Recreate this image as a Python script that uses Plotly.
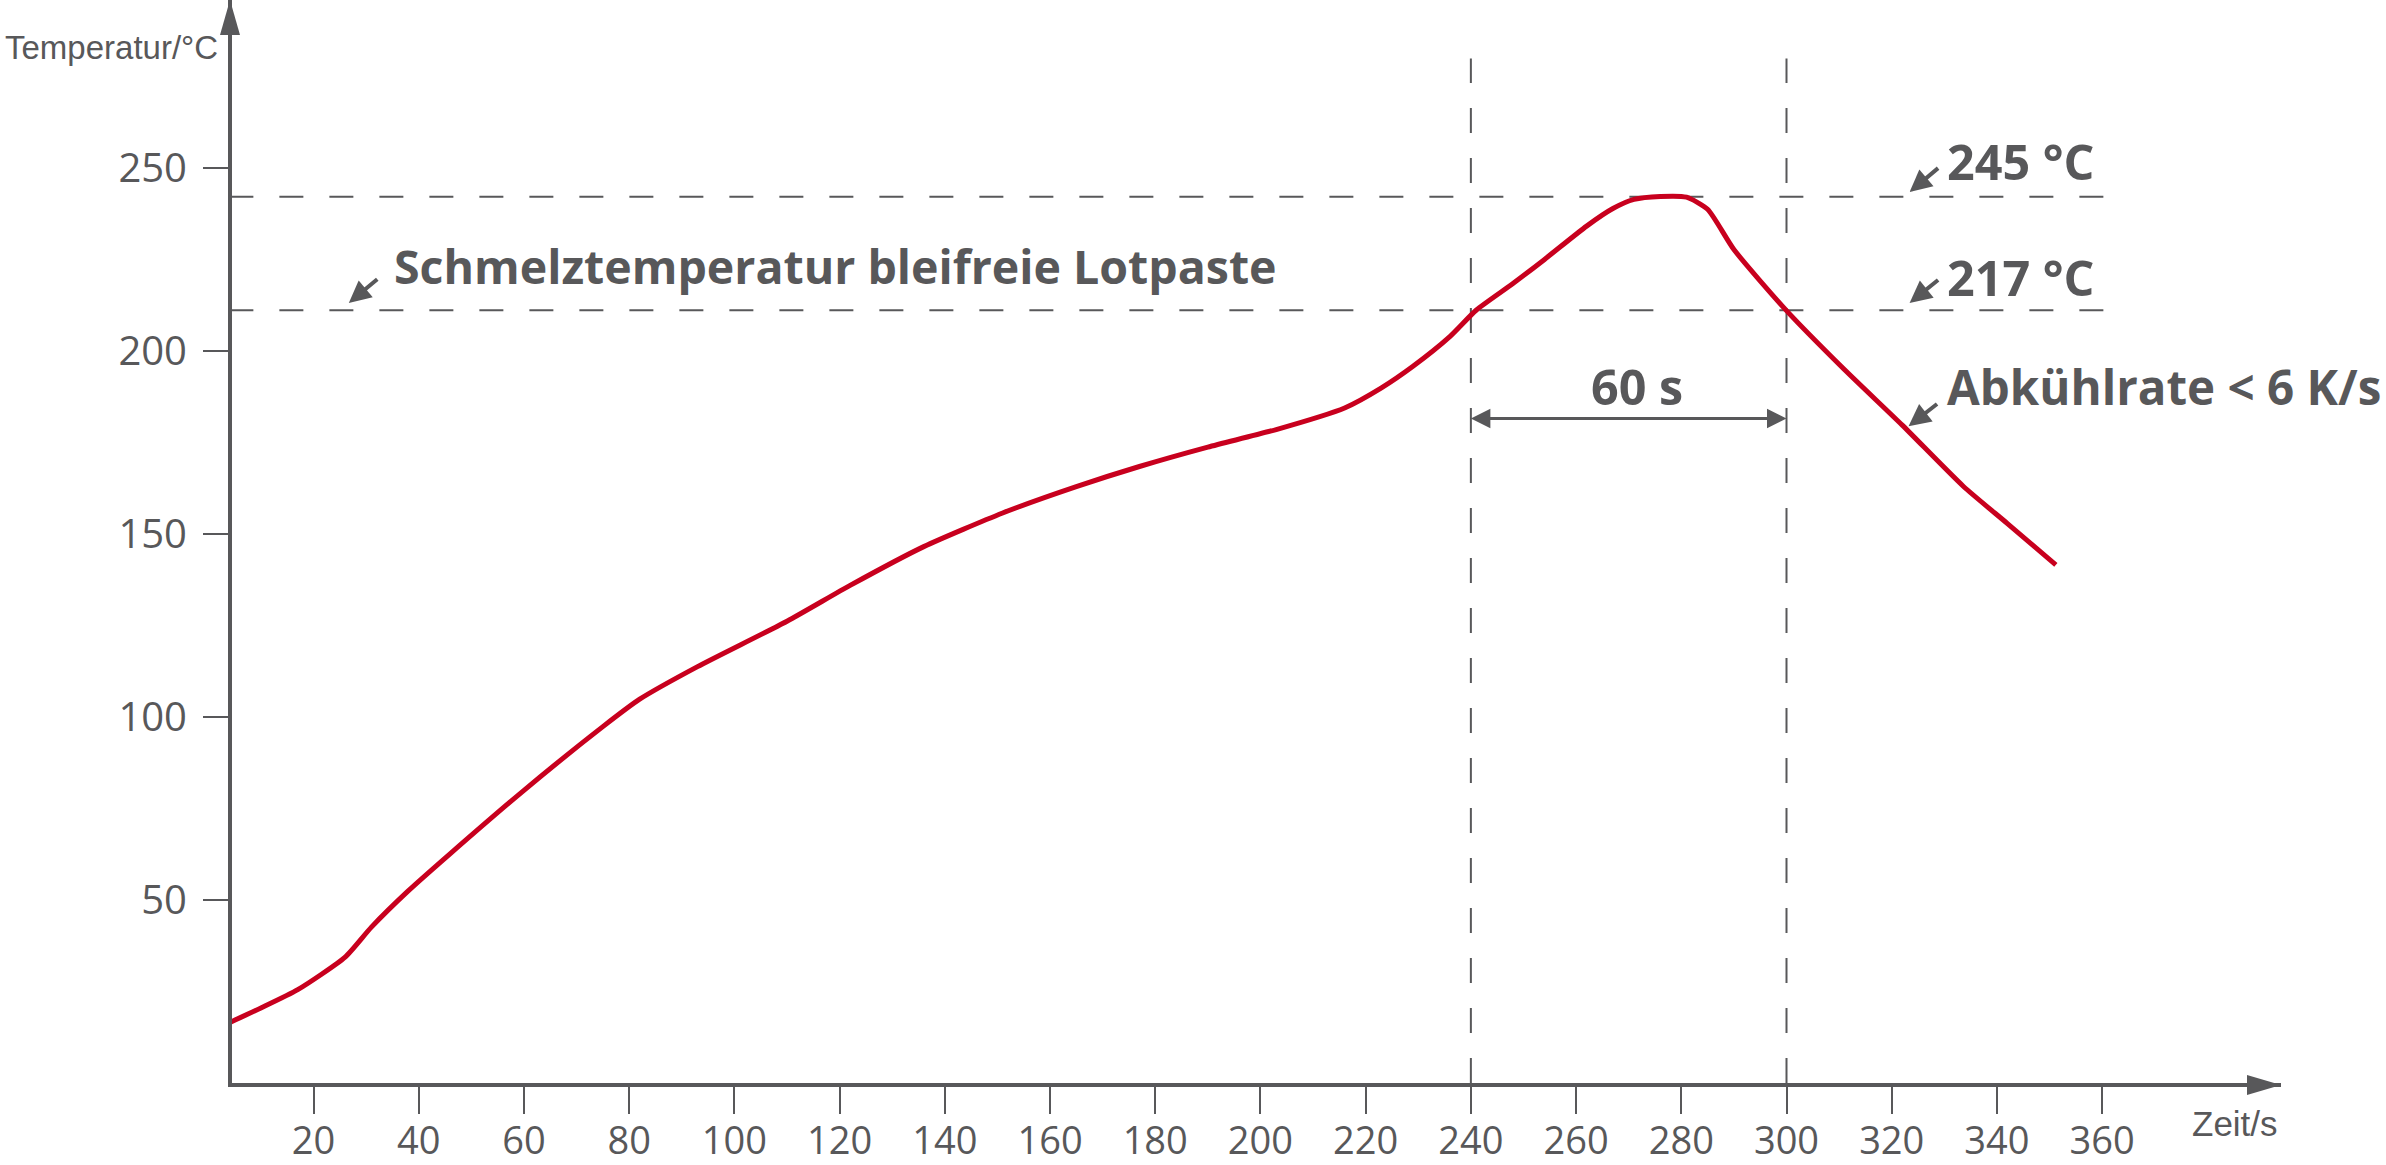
import plotly.graph_objects as go

# Lötprofil (Reflow)
zeit = [4, 10, 17, 26, 31, 38, 46, 60, 75, 82, 93, 110, 122, 136, 151, 165, 177, 190,
        203, 216, 223, 229, 236, 241, 248, 254, 262, 267, 271, 276, 281, 285, 290, 300,
        311, 322, 333.6, 342, 351.2]
temperatur = [16.5, 20.5, 25.5, 34.4, 42.6, 52.5, 62.7, 80.0, 97.4, 104.9, 113.8, 126.2,
              136.0, 146.6, 155.8, 163.0, 168.5, 173.8, 178.6, 184.5, 190.0, 195.9, 204.0,
              211.2, 218.5, 225.1, 234.2, 239.0, 241.5, 242.3, 242.1, 238.8, 227.8, 211.1,
              195.0, 179.8, 163.1, 152.9, 141.6]

x_ticks = [20, 40, 60, 80, 100, 120, 140, 160, 180, 200, 220, 240, 260, 280, 300, 320, 340, 360]
y_ticks = [50, 100, 150, 200, 250]

# Hilfslinien (so wie gezeichnet)
linie_temp = [242.2, 211.2]      # 245 °C / 217 °C
linie_zeit = [240, 300]          # Zeitfenster 60 s
linie_temp_ende = 360.5
linie_zeit_oben = 280

GRAU = '#58585A'
ROT = '#C8001E'

fig = go.Figure()
fig.add_trace(go.Scatter(x=zeit, y=temperatur, mode='lines',
                         line=dict(color=ROT, width=5, shape='spline', smoothing=0.6),
                         hoverinfo='skip'))

shapes = []
for t in linie_temp:
    shapes.append(dict(type='line', xref='x', yref='y', x0=4, x1=linie_temp_ende, y0=t, y1=t,
                       line=dict(color=GRAU, width=2, dash='24px,26px'), layer='below'))
for z in linie_zeit:
    shapes.append(dict(type='line', xref='x', yref='y', x0=z, x1=z, y0=0, y1=linie_zeit_oben,
                       line=dict(color=GRAU, width=2, dash='25px,25px'), layer='below'))
# Maßlinie 60 s
shapes.append(dict(type='line', xref='x', yref='y', x0=242, x1=298, y0=181.6, y1=181.6,
                   line=dict(color=GRAU, width=3)))
# Pfeilspitzen der Achsen
shapes.append(dict(type='path', xref='paper', yref='paper', xsizemode='pixel', ysizemode='pixel',
                   xanchor=0, yanchor=1, path='M -12,-35 L -2,0 L 8,-35 Z',
                   fillcolor=GRAU, line=dict(width=0), layer='above'))
shapes.append(dict(type='path', xref='paper', yref='paper', xsizemode='pixel', ysizemode='pixel',
                   xanchor=1, yanchor=0, path='M -34,8 L 0,-2 L -34,-12 Z',
                   fillcolor=GRAU, line=dict(width=0), layer='above'))

fett = dict(family='Open Sans, sans-serif', size=46.5, color=GRAU)
fett47 = dict(family='Open Sans, sans-serif', size=47.5, color=GRAU)
fett48 = dict(family='Open Sans, sans-serif', size=48.5, color=GRAU)


def pfeil(x, y, ax, ay, size=1.1, width=4):
    return dict(x=x, y=y, ax=ax, ay=ay, xref='x', yref='y', axref='x', ayref='y', text='',
                showarrow=True, arrowhead=2, arrowsize=size, arrowwidth=width,
                arrowcolor=GRAU, standoff=0)


annotations = [
    dict(x=35.0, y=223.4, xref='x', yref='y', text='<b>Schmelztemperatur bleifreie Lotpaste</b>',
         showarrow=False, xanchor='left', yanchor='middle', font=fett),
    dict(x=330.2, y=252.1, xref='x', yref='y', text='<b>245 °C</b>',
         showarrow=False, xanchor='left', yanchor='middle', font=fett48),
    dict(x=330.2, y=220.4, xref='x', yref='y', text='<b>217 °C</b>',
         showarrow=False, xanchor='left', yanchor='middle', font=fett48),
    dict(x=330.2, y=190.4, xref='x', yref='y', text='<b>Abkühlrate < 6 K/s</b>',
         showarrow=False, xanchor='left', yanchor='middle', font=fett47),
    dict(x=271.6, y=190.4, xref='x', yref='y', text='<b>60 s</b>',
         showarrow=False, xanchor='center', yanchor='middle', font=fett48),
    pfeil(26.7, 213.2, 32.4, 220.0),
    pfeil(323.4, 243.5, 329.1, 250.4),
    pfeil(323.4, 213.2, 329.1, 219.8),
    pfeil(323.2, 179.5, 328.9, 185.9),
    pfeil(240, 181.6, 262, 181.6, size=1.3, width=3),
    pfeil(300, 181.6, 278, 181.6, size=1.3, width=3),
    dict(x=0, y=1, xref='paper', yref='paper', text='Temperatur/°C', showarrow=False,
         xanchor='left', yanchor='middle', xshift=-229, yshift=-47.5,
         font=dict(family='Liberation Sans, Arial, sans-serif', size=33, color=GRAU)),
    dict(x=1, y=0, xref='paper', yref='paper', text='Zeit/s', showarrow=False,
         xanchor='center', yanchor='middle', xshift=-46.5, yshift=-40,
         font=dict(family='Liberation Sans, Arial, sans-serif', size=35, color=GRAU)),
]

fig.update_layout(
    width=2386, height=1165,
    margin=dict(l=232, r=105, t=0, b=82),
    plot_bgcolor='white', paper_bgcolor='white',
    showlegend=False,
    shapes=shapes,
    annotations=annotations,
    xaxis=dict(range=[4.5, 394], tickvals=x_ticks, ticks='outside', ticklen=27, tickwidth=1.5,
               tickcolor=GRAU, showline=True, linecolor=GRAU, linewidth=4, showgrid=False,
               zeroline=False, automargin=False, ticklabelstandoff=-6,
               tickfont=dict(family='Open Sans, sans-serif', size=38, color=GRAU)),
    yaxis=dict(range=[0, 296], tickvals=y_ticks, ticks='outside', ticklen=25, tickwidth=1.5,
               tickcolor=GRAU, showline=True, linecolor=GRAU, linewidth=4, showgrid=False,
               zeroline=False, automargin=False, ticklabelstandoff=8,
               tickfont=dict(family='Open Sans, sans-serif', size=40, color=GRAU)),
)

# Seitenrand des Browsers entfernen, damit die Grafik genau im Fenster sitzt
fig.write_html('out.html', config={'displayModeBar': False},
               post_script="document.body.style.margin='0';")
